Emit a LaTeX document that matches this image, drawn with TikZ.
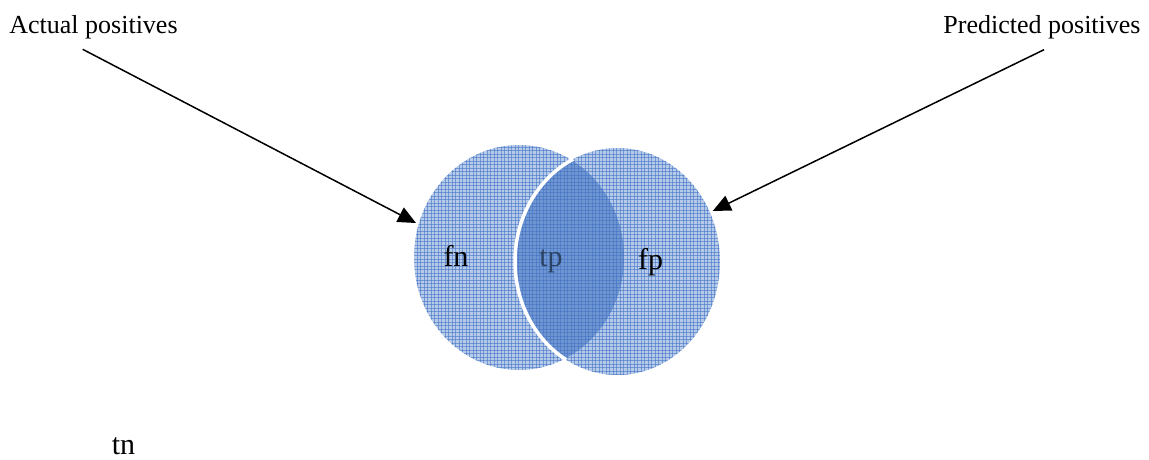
\documentclass[tikz,border=0pt]{standalone}
\usepackage{fontspec}
\setmainfont{Liberation Serif}
\usetikzlibrary{arrows.meta}
\definecolor{basefill}{RGB}{182,202,233}
\definecolor{lensfill}{RGB}{112,150,210}
\definecolor{gridline}{RGB}{62,112,196}
\definecolor{tpcol}{RGB}{42,66,100}
\tikzset{
  toplabel/.style={inner sep=0pt, anchor=base, font=\fontsize{26}{30}\selectfont},
  setlabel/.style={inner sep=0pt, anchor=base, font=\fontsize{30}{34}\selectfont},
  pointer/.style={line width=1.5pt, -{Triangle[length=18pt,width=16pt]}},
  gridstroke/.style={draw=gridline, draw opacity=0.55, line width=0.5pt},
}
\begin{document}
\begin{tikzpicture}[x=1pt,y=-1pt]
\useasboundingbox (0,0) rectangle (1149,459);
% base fills
\fill[basefill] (519,257.5) ellipse [x radius=105pt, y radius=112.5pt];
\fill[basefill] (617.5,261.5) ellipse [x radius=102.5pt, y radius=113.5pt];
% lens
\begin{scope}
  \clip (519,257.5) ellipse [x radius=105pt, y radius=112.5pt];
  \fill[lensfill] (617.5,261.5) ellipse [x radius=102.5pt, y radius=113.5pt];
\end{scope}
% grid texture
\begin{scope}
  \clip (519,257.5) ellipse [x radius=105pt, y radius=112.5pt]
        (617.5,261.5) ellipse [x radius=102.5pt, y radius=113.5pt];
  \foreach \i in {0,...,92} {
    \draw[gridstroke] (410+3.5*\i,140) -- (410+3.5*\i,380);
  }
  \foreach \j in {0,...,70} {
    \draw[gridstroke] (405,140+3.5*\j) -- (730,140+3.5*\j);
  }
\end{scope}
% white separating arc
\begin{scope}
  \clip (519,257.5) ellipse [x radius=106pt, y radius=113.5pt];
  \draw[white, line width=3.5pt] (617.5,261.5) ellipse [x radius=102.5pt, y radius=113.5pt];
\end{scope}
% labels
\node[toplabel] (actual) at (93.5,33) {Actual positives};
\node[toplabel] (predicted) at (1042,33) {Predicted positives};
\node[setlabel] (fn) at (456,266.5) {fn};
\node[setlabel, text=tpcol] (tp) at (551,266) {tp};
\node[setlabel] (fp) at (650.5,269) {fp};
\node[setlabel] (tn) at (123.5,454) {tn};
% arrows
\coordinate (astart) at (82.7,49.3);
\coordinate (atip) at (416,223);
\coordinate (pstart) at (1044,49.7);
\coordinate (ptip) at (712.7,211);
\draw[pointer] (astart) -- (atip);
\draw[pointer] (pstart) -- (ptip);
\end{tikzpicture}
\end{document}
